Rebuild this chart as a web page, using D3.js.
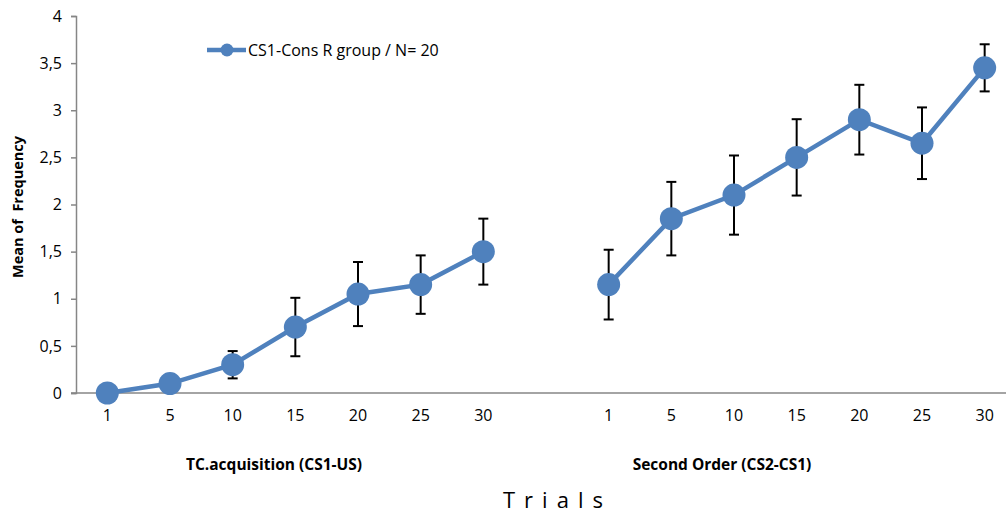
<!DOCTYPE html>
<html>

<head>
	<title>CS1-Cons R group</title>
	<script src="https://cdn.jsdelivr.net/npm/d3@7/dist/d3.min.js"></script>
	<style>
		body {
			margin: 0;
			background: white;
		}

		svg text {
			font-family: "Open Sans", sans-serif;
			fill: #000;
		}

		.axis path,
		.axis line {
			stroke: #868686;
			stroke-width: 1.5px;
		}
	</style>
</head>

<body>
	<svg id="chart" width="1006" height="514"></svg>

	<script>
		// trial labels shared by both phases
		var trials = ["1", "5", "10", "15", "20", "25", "30"];

		// TC.acquisition (CS1-US)
		var acqMean = [0, 0.1, 0.3, 0.7, 1.05, 1.15, 1.5];
		var acqErr = [0, 0, 0.145, 0.31, 0.34, 0.31, 0.35];

		// Second Order (CS2-CS1)
		var secMean = [1.15, 1.85, 2.1, 2.5, 2.9, 2.65, 3.45];
		var secErr = [0.37, 0.39, 0.42, 0.405, 0.37, 0.38, 0.25];

		var yTicks = [0, 0.5, 1, 1.5, 2, 2.5, 3, 3.5, 4];

		var groups = ["TC.acquisition (CS1-US)", "Second Order (CS2-CS1)"];
		var legendLabel = "CS1-Cons R group / N= 20";

		var blue = "#4f81bd";

		// build slots: 7 acquisition + 1 empty gap + 7 second order
		var acq = trials.map((t, i) => ({ key: "a" + t, label: t, mean: acqMean[i], err: acqErr[i] }));
		var sec = trials.map((t, i) => ({ key: "s" + t, label: t, mean: secMean[i], err: secErr[i] }));
		var slots = acq.map(d => d.key).concat(["gap"], sec.map(d => d.key));
		var labelOf = {};
		acq.concat(sec).forEach(d => labelOf[d.key] = d.label);

		var svg = d3.select("#chart");

		var x = d3.scaleBand()
			.domain(slots)
			.range([76, 1016]);

		var y = d3.scaleLinear()
			.domain([0, 4])
			.range([393, 16]);

		var cx = k => x(k) + x.bandwidth() / 2;

		// y axis
		svg.append("g")
			.attr("class", "axis")
			.attr("transform", "translate(76,0)")
			.call(d3.axisLeft(y)
				.tickValues(yTicks)
				.tickSize(5)
				.tickSizeOuter(5)
				.tickPadding(9)
				.tickFormat(d => String(d).replace(".", ",")))
			.call(g => g.selectAll("text")
				.style("font-size", "16px"));

		// x axis
		svg.append("g")
			.attr("class", "axis")
			.attr("transform", "translate(0,393)")
			.call(d3.axisBottom(x)
				.tickSize(0)
				.tickPadding(17)
				.tickFormat(k => labelOf[k] || ""))
			.call(g => g.select(".domain").attr("d", "M71,0H1006"))
			.call(g => g.selectAll("text")
				.style("font-size", "16px"));

		// lines
		var line = d3.line()
			.x(d => cx(d.key))
			.y(d => y(d.mean));

		[acq, sec].forEach(series => {
			svg.append("path")
				.datum(series)
				.attr("fill", "none")
				.attr("stroke", blue)
				.attr("stroke-width", 4.5)
				.attr("d", line);
		});

		var all = acq.concat(sec);

		// error bars
		var eb = svg.append("g")
			.attr("stroke", "#000")
			.attr("stroke-width", 2)
			.selectAll("g")
			.data(all.filter(d => d.err > 0))
			.enter()
			.append("g");

		eb.append("line")
			.attr("x1", d => cx(d.key))
			.attr("x2", d => cx(d.key))
			.attr("y1", d => y(d.mean + d.err))
			.attr("y2", d => y(d.mean - d.err));

		eb.append("line")
			.attr("x1", d => cx(d.key) - 5)
			.attr("x2", d => cx(d.key) + 5)
			.attr("y1", d => y(d.mean + d.err))
			.attr("y2", d => y(d.mean + d.err));

		eb.append("line")
			.attr("x1", d => cx(d.key) - 5)
			.attr("x2", d => cx(d.key) + 5)
			.attr("y1", d => y(d.mean - d.err))
			.attr("y2", d => y(d.mean - d.err));

		// markers
		svg.append("g")
			.selectAll("circle")
			.data(all)
			.enter()
			.append("circle")
			.attr("cx", d => cx(d.key))
			.attr("cy", d => y(d.mean))
			.attr("r", 11.5)
			.attr("fill", blue);

		// legend
		var lg = svg.append("g").attr("transform", "translate(207,50)");
		lg.append("line")
			.attr("x1", 0).attr("x2", 39)
			.attr("stroke", blue).attr("stroke-width", 4.5);
		lg.append("circle")
			.attr("cx", 20).attr("r", 6.5)
			.attr("fill", blue);
		lg.append("text")
			.attr("x", 41).attr("y", 6)
			.style("font-size", "16px")
			.text(legendLabel);

		// group labels
		svg.append("text")
			.attr("x", 274).attr("y", 470)
			.attr("text-anchor", "middle")
			.style("font-size", "15.5px")
			.style("font-weight", "bold")
			.text(groups[0]);

		svg.append("text")
			.attr("x", 722).attr("y", 470)
			.attr("text-anchor", "middle")
			.style("font-size", "15.5px")
			.style("font-weight", "bold")
			.text(groups[1]);

		// axis titles
		svg.append("text")
			.attr("transform", "translate(23,207) rotate(-90)")
			.attr("text-anchor", "middle")
			.style("font-size", "14.5px")
			.style("font-weight", "bold")
			.style("white-space", "pre")
			.text("Mean of  Frequency");

		svg.append("text")
			.attr("x", 503).attr("y", 508)
			.style("font-size", "22px")
			.style("letter-spacing", "9px")
			.text("Trials");
	</script>
</body>

</html>
